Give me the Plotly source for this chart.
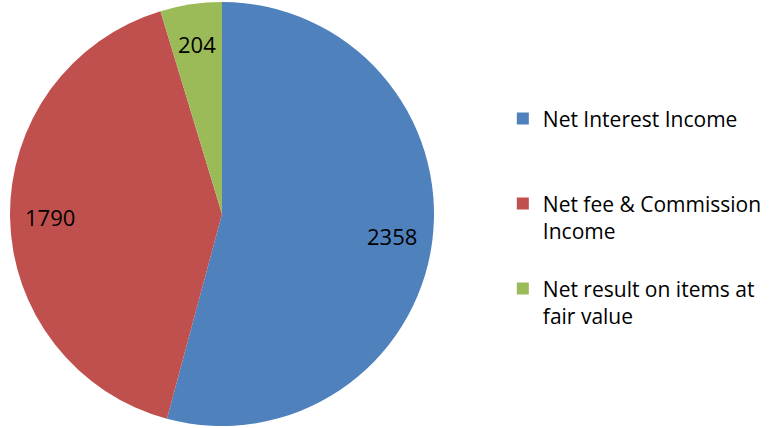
import math
import plotly.graph_objects as go

labels = ["Net Interest Income<br> <br> ",
          "Net fee & Commission<br>Income<br> ",
          "Net result on items at<br>fair value"]
values = [2358, 1790, 204]
colors = ["#4F81BD", "#C0504D", "#9BBB59"]

W, H = 782, 428
pie_dom = [0.0128, 0.5550]  # pie domain (paper x)

fig = go.Figure(
    go.Pie(
        labels=labels,
        values=values,
        sort=False,
        direction="clockwise",
        rotation=0,
        marker=dict(colors=colors, line=dict(color="#ffffff", width=0)),
        textinfo="none",
        domain=dict(x=pie_dom, y=[0, 1]),
        hoverinfo="label+value",
    )
)

# value labels placed Excel-style at ~80% of the radius, mid-angle of each slice
cx, cy = (pie_dom[0] + pie_dom[1]) / 2 * W, H / 2
r = min((pie_dom[1] - pie_dom[0]) * W, H) / 2
total = sum(values)
cum = 0
for v in values:
    mid = (cum + v / 2) / total * 2 * math.pi
    cum += v
    px = cx + 0.81 * r * math.sin(mid)
    py = cy - 0.81 * r * math.cos(mid)
    fig.add_annotation(
        x=px / W, y=1 - py / H, xref="paper", yref="paper",
        xanchor="center", yanchor="middle",
        text=str(v), showarrow=False,
        font=dict(size=22, color="#000000"),
    )

fig.update_layout(
    width=W,
    height=H,
    margin=dict(l=0, r=0, t=0, b=0),
    paper_bgcolor="#ffffff",
    font=dict(family="'Open Sans', sans-serif", size=21, color="#000000"),
    legend=dict(
        x=0.643, y=0.77, xanchor="left", yanchor="top",
        valign="top",
        itemwidth=30,
        font=dict(size=21),
    ),
)

fig.write_html("out.html", config={"displayModeBar": False},
               post_script="document.body.style.margin='0';")
